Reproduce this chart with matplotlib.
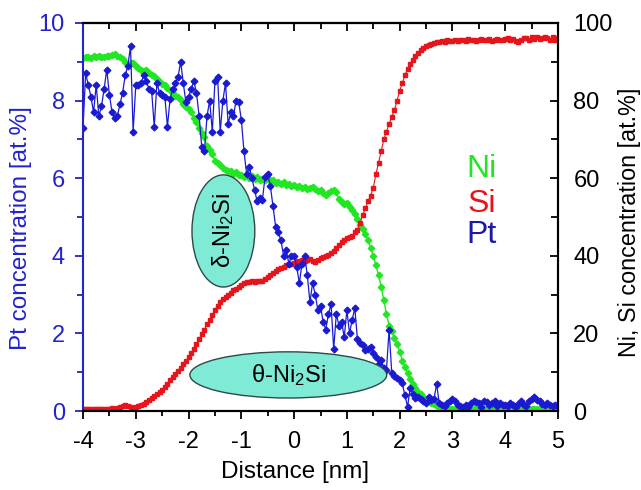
import numpy as np
import matplotlib
matplotlib.use("Agg")
import matplotlib.pyplot as plt
from matplotlib.patches import Ellipse
from matplotlib.ticker import MultipleLocator

plt.rcParams['font.family'] = ['Liberation Sans', 'DejaVu Sans']

# ---------------- data ----------------
distance = np.linspace(-4.0, 5.0, 181)  # nm, 0.05 nm sampling

ni = [91.0, 91.2, 91.3, 91.0, 91.4, 91.2, 91.5, 91.3, 91.1, 91.4, 91.6, 91.8, 91.9, 91.5, 91.2, 90.6, 90.0, 89.3, 89.8, 89.6,
      89.0, 88.4, 88.0, 87.6, 87.9, 87.2, 86.5, 86.2, 85.5, 84.9, 84.3, 83.9, 83.2, 82.6, 82.0, 81.3, 80.8, 80.2, 79.1, 78.4,
      77.9, 77.0, 75.5, 74.6, 73.0, 71.6, 70.5, 68.3, 67.2, 66.2, 64.5, 63.8, 63.5, 62.6, 62.2, 61.8, 61.9, 61.2, 61.5, 60.8,
      60.9, 60.4, 60.7, 60.1, 60.5, 59.8, 60.3, 59.6, 59.9, 59.4, 60.0, 59.2, 59.5, 58.8, 59.1, 58.6, 58.9, 58.2, 58.5, 57.9,
      58.2, 57.8, 58.0, 57.4, 57.7, 57.2, 57.5, 57.8, 57.1, 56.6, 56.9, 56.2, 55.6, 56.3, 56.8, 56.9, 56.4, 54.6, 53.8, 53.3,
      53.5, 52.6, 51.8, 50.8, 49.6, 48.0, 46.8, 45.5, 44.0, 42.0, 40.0, 37.5, 35.0, 32.0, 28.5, 25.0, 22.0, 20.5, 18.8, 17.2,
      15.3, 13.0, 11.4, 9.8, 8.3, 7.0, 6.0, 5.0, 4.3, 3.7, 3.1, 2.6, 2.1, 1.7, 1.4, 1.1, 0.9, 0.8, 0.7, 0.6,
      0.6, 0.5, 0.6, 0.5, 0.4, 0.5, 0.6, 0.5, 0.4, 0.5, 0.5, 0.6, 0.5, 0.4, 0.5, 0.5, 0.6, 0.4, 0.5, 0.5,
      0.5, 0.4, 0.5, 0.6, 0.5, 0.4, 0.5, 0.5, 0.6, 0.5, 0.4, 0.5, 0.6, 0.5, 0.5, 0.4, 0.5, 0.6, 0.5, 0.4, 0.5]

si = [0.5, 0.4, 0.5, 0.6, 0.5, 0.4, 0.5, 0.6, 0.5, 0.5, 0.6, 0.7, 0.6, 0.8, 1.0, 1.2, 1.5, 1.3, 1.0, 0.9,
      1.0, 1.2, 1.5, 1.8, 2.2, 2.8, 3.3, 3.9, 4.5, 4.9, 5.3, 6.2, 7.0, 7.9, 8.8, 9.5, 10.3, 11.2, 12.0, 12.9,
      13.8, 14.9, 16.0, 17.2, 18.5, 19.8, 21.0, 22.3, 23.5, 24.8, 26.0, 27.1, 28.0, 28.8, 29.5, 30.0, 30.5, 31.2, 31.5, 32.0,
      32.5, 33.0, 33.3, 33.2, 33.5, 33.3, 33.5, 33.4, 33.6, 34.0, 34.5, 35.0, 35.5, 36.0, 36.5, 36.9, 37.2, 37.5, 37.8, 38.0,
      38.2, 38.6, 38.4, 38.9, 38.6, 39.0, 39.2, 38.6, 38.5, 39.0, 39.3, 39.8, 40.0, 40.3, 40.6, 41.2, 42.0, 42.8, 43.5, 44.0,
      44.5, 44.8, 45.2, 46.0, 46.6, 48.5, 50.5, 52.2, 54.0, 55.5, 57.5, 61.0, 64.0, 67.0, 70.0, 72.0, 74.0, 75.8, 77.5, 80.0,
      82.5, 84.5, 86.5, 88.2, 89.5, 90.5, 91.5, 92.3, 93.0, 93.5, 94.0, 94.4, 94.7, 94.9, 95.1, 95.0, 95.3, 95.2, 95.5, 95.3,
      95.4, 95.6, 95.3, 95.7, 95.5, 95.4, 95.8, 95.5, 95.6, 95.3, 95.7, 95.9, 95.5, 95.6, 95.8, 95.4, 95.7, 95.9, 95.6, 95.5,
      95.8, 96.0, 95.6, 95.9, 95.4, 95.1, 95.6, 96.2, 96.0, 95.7, 96.4, 95.9, 96.3, 95.8, 96.2, 96.5, 96.0, 95.7, 96.3, 95.6, 96.0]

pt = [7.3, 8.7, 8.4, 8.1, 7.7, 8.4, 7.6, 7.85, 8.3, 8.8, 8.15, 7.7, 7.55, 7.6, 7.9, 8.2, 8.65, 8.9, 9.4, 7.2,
      8.4, 8.4, 8.45, 8.65, 8.5, 8.3, 8.25, 7.33, 8.45, 8.2, 8.15, 8.1, 7.33, 8.05, 8.3, 8.45, 8.6, 9.0, 8.45, 7.95,
      8.1, 8.3, 8.5, 8.2, 7.6, 6.8, 6.7, 7.6, 8.0, 7.2, 8.5, 8.6, 7.2, 8.0, 8.45, 7.4, 7.7, 7.6, 8.0, 7.97,
      7.5, 6.7, 6.1, 6.3, 6.0, 5.7, 5.4, 5.5, 5.45, 6.04, 6.1, 5.8, 5.27, 4.75, 4.6, 4.4, 4.0, 4.15, 3.8, 4.0,
      4.0, 3.7, 3.3, 3.8, 4.0, 3.5, 2.8, 3.3, 3.0, 2.6, 2.7, 2.3, 2.1, 2.5, 2.75, 1.6, 2.5, 2.2, 2.3, 1.9,
      2.6, 2.0, 2.35, 2.65, 1.85, 1.75, 1.7, 1.57, 1.6, 1.66, 1.5, 1.4, 1.2, 1.31, 1.1, 1.06, 2.1, 0.98, 0.9, 0.85,
      0.8, 0.71, 0.4, 0.11, 0.6, 0.45, 0.33, 0.37, 0.3, 0.25, 0.2, 0.35, 0.28, 0.3, 0.7, 0.2, 0.15, 0.12, 0.2, 0.25,
      0.3, 0.25, 0.15, 0.12, 0.1, 0.15, 0.1, 0.2, 0.25, 0.22, 0.2, 0.1, 0.25, 0.22, 0.15, 0.2, 0.25, 0.12, 0.2, 0.15,
      0.15, 0.12, 0.2, 0.15, 0.1, 0.18, 0.25, 0.15, 0.12, 0.25, 0.32, 0.35, 0.28, 0.25, 0.18, 0.15, 0.2, 0.15, 0.12, 0.15, 0.13]

x_ticks = [-4, -3, -2, -1, 0, 1, 2, 3, 4, 5]
pt_ticks = [0, 2, 4, 6, 8, 10]
nisi_ticks = [0, 20, 40, 60, 80, 100]

# ---------------- style ----------------
GREEN = '#22e622'
RED = '#e8141c'
BLUE = '#1a1ad2'
AXBLUE = '#2323cc'

fig = plt.figure(figsize=(6.41, 4.90), dpi=100)
ax = fig.add_axes([0.1295, 0.1612, 0.741, 0.792])
ax2 = ax.twinx()
ax.set_zorder(ax2.get_zorder() + 1)
ax.patch.set_visible(False)

ax2.plot(distance, ni, color=GREEN, lw=1.0, marker='D', ms=3.3, mec=GREEN, mfc=GREEN)
ax2.plot(distance, si, color=RED, lw=0.8, marker='s', ms=2.4, mec=RED, mfc=RED)
ax.plot(distance, pt, color=BLUE, lw=0.9, marker='D', ms=3.4, mec=BLUE, mfc=BLUE)

ax.set_xlim(-4, 5)
ax.set_ylim(0, 10)
ax2.set_ylim(0, 100)

ax.set_xticks(x_ticks)
ax.set_xticklabels([str(v) for v in x_ticks])
ax.xaxis.set_minor_locator(MultipleLocator(0.5))
ax.set_yticks(pt_ticks)
ax.yaxis.set_minor_locator(MultipleLocator(1))
ax2.set_yticks(nisi_ticks)
ax2.yaxis.set_minor_locator(MultipleLocator(10))

fs = 17
ax.tick_params(axis='x', which='both', direction='out', top=False, labelsize=fs, width=1.3, pad=9)
ax.tick_params(axis='x', which='major', length=5.5)
ax.tick_params(axis='x', which='minor', length=3.5)
ax.tick_params(axis='y', which='both', direction='out', colors=AXBLUE, labelsize=fs, width=1.3, pad=7)
ax.tick_params(axis='y', which='major', length=6)
ax.tick_params(axis='y', which='minor', length=4)
ax2.tick_params(axis='y', which='both', direction='in', labelsize=fs, width=1.3, right=True, left=False, pad=11)
ax2.tick_params(axis='y', which='major', length=6)
ax2.tick_params(axis='y', which='minor', length=5)

# top ticks pointing inward
secx = ax.secondary_xaxis('top')
secx.set_xticks(x_ticks)
secx.xaxis.set_minor_locator(MultipleLocator(0.5))
secx.tick_params(axis='x', which='both', direction='in', labeltop=False, width=1.3)
secx.tick_params(axis='x', which='major', length=6)
secx.tick_params(axis='x', which='minor', length=4)
secx.spines['top'].set_linewidth(1.5)

for s in ['bottom', 'top', 'right']:
    ax.spines[s].set_linewidth(1.5)
    ax2.spines[s].set_linewidth(1.5)
ax.spines['left'].set_color(AXBLUE)
ax.spines['left'].set_linewidth(1.5)
ax2.spines['left'].set_visible(False)

ax.set_xlabel('Distance [nm]', fontsize=17.5)
ax.xaxis.set_label_coords(0.446, -0.128)
ax.set_ylabel('Pt concentration [at.%]', fontsize=17.5, color=AXBLUE)
ax.yaxis.set_label_coords(-0.107, 0.472)
ax2.set_ylabel('Ni, Si concentration [at.%]', fontsize=16.8, rotation=90)
ax2.yaxis.set_label_coords(1.126, 0.485)

# phase ellipses
FILL = '#7fead6'
EDGE = '#2e4a44'
e1 = Ellipse((-1.34, 4.64), 1.19, 2.89, facecolor=FILL, edgecolor=EDGE, lw=1.0, zorder=5)
e2 = Ellipse((-0.11, 0.93), 3.73, 1.19, facecolor=FILL, edgecolor=EDGE, lw=1.0, zorder=5)
ax.add_patch(e1)
ax.add_patch(e2)
ax.text(-1.34, 4.64, 'δ-Ni$\\mathregular{_2}$Si', rotation=90, ha='center', va='center',
        fontsize=fs, zorder=6)
ax.text(-0.11, 0.93, 'θ-Ni$\\mathregular{_2}$Si', ha='center', va='center', fontsize=fs, zorder=6)

# legend-like labels
ax.text(0.840, 0.603, 'Ni', transform=ax.transAxes, color=GREEN, fontsize=23, ha='center', va='baseline')
ax.text(0.840, 0.513, 'Si', transform=ax.transAxes, color=RED, fontsize=23, ha='center', va='baseline')
ax.text(0.840, 0.433, 'Pt', transform=ax.transAxes, color='#1a1aa8', fontsize=23, ha='center', va='baseline')

fig.savefig('out.png', dpi=100)
